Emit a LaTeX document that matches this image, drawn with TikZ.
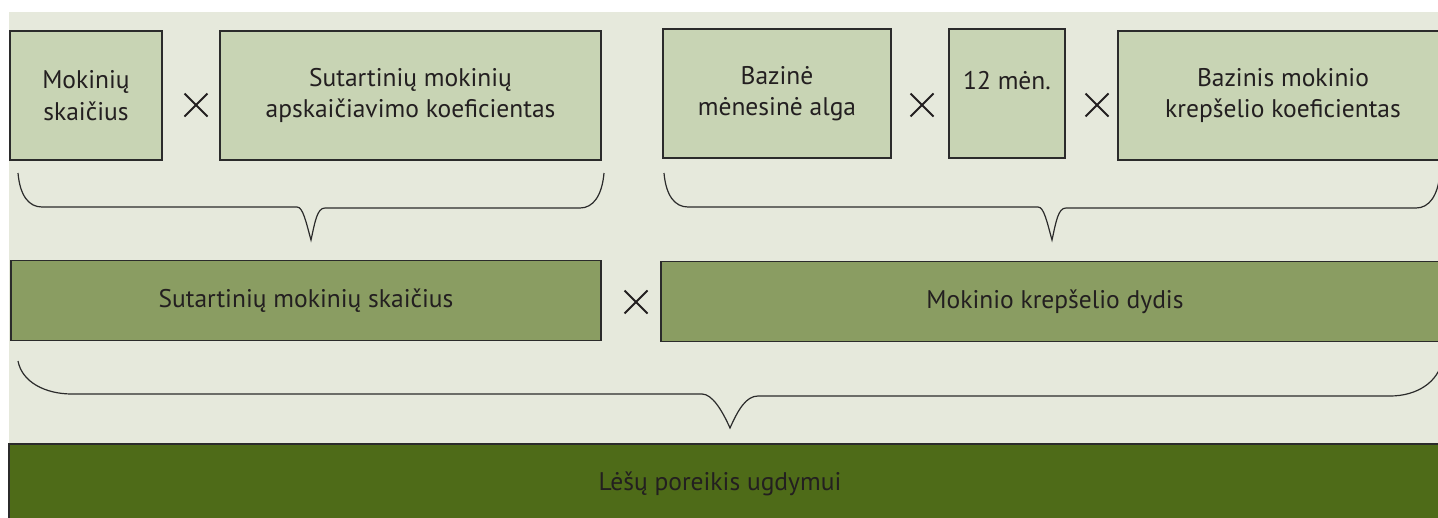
\documentclass[tikz,border=0pt]{standalone}
\usepackage{fontspec}
\setmainfont{PT Sans}
\definecolor{bgc}{HTML}{E6E9DC}
\definecolor{topc}{HTML}{C8D4B4}
\definecolor{midc}{HTML}{8A9D62}
\definecolor{botc}{HTML}{4E6B18}
\definecolor{txtc}{HTML}{231F20}
\definecolor{linec}{HTML}{2B2B2B}
\begin{document}
\begin{tikzpicture}[x=1pt,y=-1pt,
  lbl/.style={text=txtc, align=center, font=\fontsize{25.5}{31.5}\selectfont},
  topbox/.style={lbl, draw=linec, line width=1.1pt, fill=topc, inner sep=0pt},
  midbox/.style={lbl, draw=linec, line width=1.5pt, fill=midc, inner sep=0pt},
  brace/.style={draw=linec, line width=1.2pt},
  timesmark/.style={draw=txtc, line width=2pt}]
\useasboundingbox (0,0) rectangle (1438,517);
\clip (0,0) rectangle (1438,517);
\fill[white] (0,0) rectangle (1438,517);
\fill[bgc] (9,12) rectangle (1460,530);
% top row
\node[topbox, minimum width=152pt, minimum height=129pt] (A) at (86,95.5) {Mokinių\\skaičius};
\node[topbox, minimum width=381pt, minimum height=129pt] (B) at (410.5,95.5) {Sutartinių mokinių\\apskaičiavimo koeficientas};
\node[topbox, minimum width=228pt, minimum height=129pt] (C) at (777,93.5) {Bazinė\\mėnesinė alga};
\node[topbox, minimum width=116pt, minimum height=129pt] (D) at (1007,93.5) {};
\node[lbl, anchor=base] (Dt) at (1007,89) {12 mėn.};
\node[topbox, minimum width=330pt, minimum height=129pt] (E) at (1283,95.5) {Bazinis mokinio\\krepšelio koeficientas};
% multiplication marks
\coordinate (x1) at (196,105);
\coordinate (x2) at (922,105);
\coordinate (x3) at (1097,105);
\coordinate (x4) at (636,302);
\foreach \c in {x1,x2,x3,x4}{
  \draw[timesmark] ([shift={(-11.5,-11.5)}]\c) -- ([shift={(11.5,11.5)}]\c);
  \draw[timesmark] ([shift={(-11.5,11.5)}]\c) -- ([shift={(11.5,-11.5)}]\c);
}
% top braces
\draw[brace] (18,173) .. controls (20,196) and (29,207) .. (42,207) -- (297,207)
  .. controls (303,207) and (306,222) .. (311,240)
  .. controls (315,222) and (317,208) .. (325,208) -- (580,208)
  .. controls (593,208) and (602,196) .. (604,173);
\draw[brace] (664,173) .. controls (666,196) and (675,207) .. (688,207) -- (1038,207)
  .. controls (1044,207) and (1047,222) .. (1052,240)
  .. controls (1056,222) and (1058,208) .. (1066,208) -- (1416,208)
  .. controls (1429,208) and (1438,196) .. (1440,173);
% middle row
\node[midbox, minimum width=590pt, minimum height=80pt] (F) at (306,300.5) {Sutartinių mokinių skaičius};
\node[midbox, minimum width=788pt, minimum height=80pt] (G) at (1055,301.5) {Mokinio krepšelio dydis};
% big brace
\draw[brace] (18,361) .. controls (22,382) and (45,394) .. (72,394) -- (702,394)
  .. controls (712,394) and (722,410) .. (730,428)
  .. controls (738,410) and (746,396) .. (758,396) -- (1390,396)
  .. controls (1417,396) and (1438,382) .. (1442,361);
% bottom bar
\node[draw=linec, line width=1.5pt, fill=botc, inner sep=0pt, minimum width=1460pt, minimum height=80pt, anchor=north west] (H) at (8,443) {};
\node[lbl] (Ht) at (720,484) {Lėšų poreikis ugdymui};
\end{tikzpicture}
\end{document}
